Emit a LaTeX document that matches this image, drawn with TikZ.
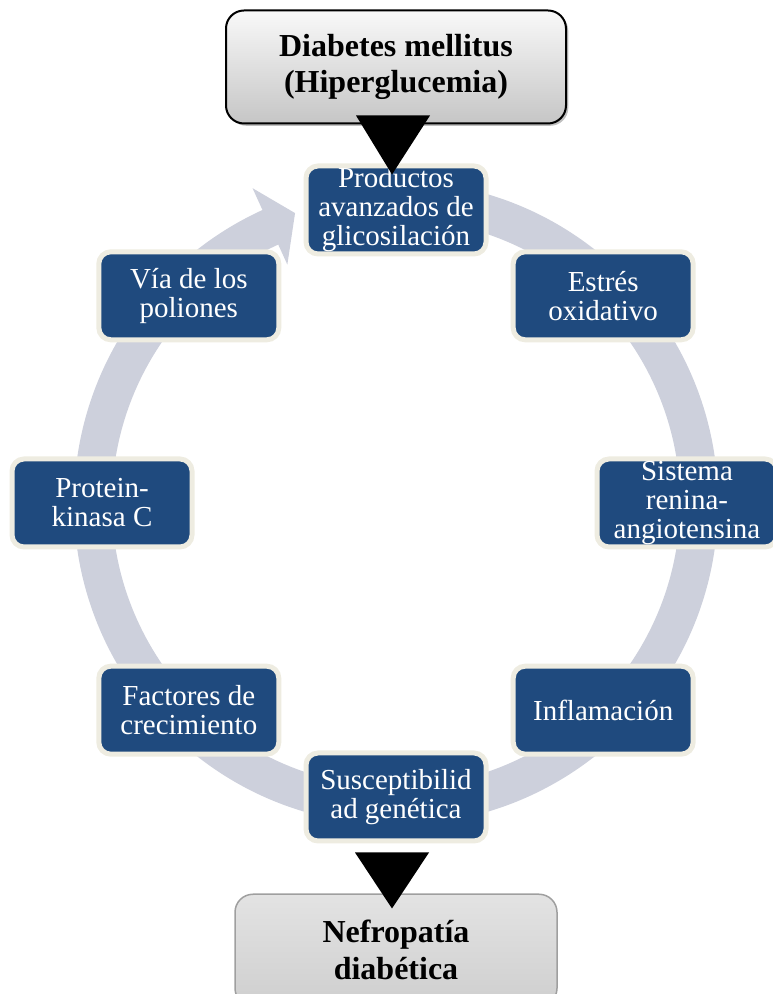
\documentclass[tikz,border=0pt]{standalone}
\usepackage{fontspec}
\setmainfont{Liberation Serif}
\usepackage{xcolor}
\usepackage{tikz}
\usetikzlibrary{positioning,shapes,arrows,shadows}

\definecolor{ringgray}{HTML}{CDD0DC}
\definecolor{boxblue}{HTML}{1F4A7E}
\definecolor{boxrim}{HTML}{EEECE1}

\begin{document}
\begin{tikzpicture}[x=1pt, y=1pt,
    cyclebox/.style={draw=boxrim, line width=5pt, fill=boxblue, rounded corners=12pt, text=white, align=center, minimum width=180pt, minimum height=88pt, inner sep=1pt, font=\fontsize{29}{29}\selectfont},
    headbox/.style={draw=black, line width=2pt, rounded corners=18pt, top color=gray!5, bottom color=gray!45, drop shadow, align=center, minimum width=340pt, minimum height=113pt, font=\bfseries\fontsize{32}{36}\selectfont},
    footbox/.style={draw=gray!75, line width=1.5pt, rounded corners=18pt, top color=gray!22, bottom color=gray!38, align=center, minimum width=322pt, minimum height=112pt, font=\bfseries\fontsize{32}{37}\selectfont}]
    \useasboundingbox (0,0) rectangle (772,994);
            % ring with arrow
            \begin{scope}[shift={(396,491)}]
            \fill[ringgray] (85:322) arc[start angle=85, end angle=-245.5, radius=322] -- (114.5:346) -- (109.2:307) -- (114.5:262) -- (114.5:284) arc[start angle=114.5, end angle=445, radius=284] -- cycle;
            \node[cyclebox] (prod) at (90:293) {Productos\\avanzados de\\glicosilación};
            \node[cyclebox] (estres) at (45:293) {Estrés\\oxidativo};
            \node[cyclebox] (sra) at (0:291) {Sistema\\renina-\\angiotensina};
            \node[cyclebox] (infl) at (-45:293) {Inflamación};
            \node[cyclebox] (susc) at (-90:294) {Susceptibilid\\ad genética};
            \node[cyclebox] (fact) at (-135:293) {Factores de\\crecimiento};
            \node[cyclebox] (pkc) at (180:294) {Protein-\\kinasa C};
            \node[cyclebox] (via) at (135:293) {Vía de los\\poliones};
            \end{scope}
            
            \node[headbox, above=39pt of prod] (dm) {Diabetes mellitus\\(Hiperglucemia)};
            \node[footbox, below=50pt of susc] (nef) {Nefropatía\\diabética};
            
            \fill[black] ([shift={(-40,9)}]dm.south) -- ([shift={(34,9)}]dm.south) -- ([shift={(-4,-11)}]prod.north) -- cycle;
            \fill[black] ([shift={(-41,-9)}]susc.south) -- ([shift={(33,-9)}]susc.south) -- ([shift={(-4,-15)}]nef.north) -- cycle;
        \end{tikzpicture}
\end{document}
